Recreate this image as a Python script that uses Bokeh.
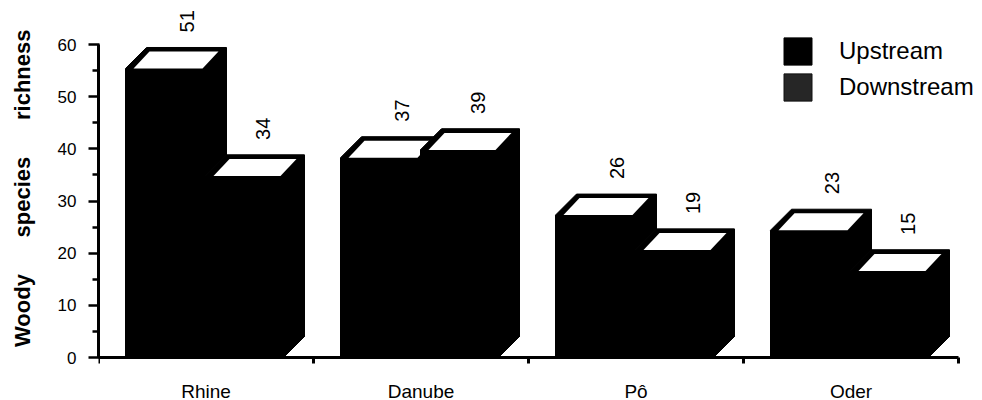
import math
from bokeh.plotting import figure
from bokeh.models import Range1d, FixedTicker, Legend, LegendItem, ColumnDataSource
from bokeh.embed import file_html
from bokeh.resources import INLINE
from bokeh.core.properties import value

# ---- data ----
rivers = ["Rhine", "Danube", "Pô", "Oder"]
upstream = [55.4, 38.3, 27.3, 24.4]          # bar heights as drawn
downstream = [34.8, 39.8, 20.6, 16.6]
upstream_labels = ["51", "37", "26", "23"]   # values printed above bars
downstream_labels = ["34", "39", "19", "15"]
y_ticks = [0, 10, 20, 30, 40, 50, 60]
y_minor = [5, 15, 25, 35, 45, 55]
y_label = "\u00a0" * 4 + "Woody" + "\u00a0" * 6 + "species" + "\u00a0" * 6 + "richness"
series_names = ["Upstream", "Downstream"]

FONT = "Liberation Sans"

# ---- layout ----
W, H = 982, 400
LEFT = 98
AXIS_Y = 357          # pixel row of the x axis (value 0)
PX_X = 215.0          # pixels per category
PX_Y = 313.0 / 60.0   # pixels per unit
x_end = (W - LEFT) / PX_X
y_start = -(H - AXIS_Y) / PX_Y
y_end = AXIS_Y / PX_Y

p = figure(width=W, height=H, output_backend="svg", toolbar_location=None,
           x_range=Range1d(0, x_end), y_range=Range1d(y_start, y_end),
           min_border_left=LEFT, min_border_right=0, min_border_top=0,
           min_border_bottom=0, outline_line_color=None,
           background_fill_color="white", border_fill_color="white")
p.grid.visible = False

# ---- 3D bar geometry (offsets in pixels converted to data units) ----
UX0, UX1 = 27 / PX_X, 107 / PX_X
DX0, DX1 = 107 / PX_X, 185 / PX_X
DX = 21 / PX_X
DY = 21 / PX_Y


def prism(x0, x1, h):
    return ([x0, x0, x0 + DX, x1 + DX, x1 + DX, x1],
            [0, h, h + DY, h + DY, DY, 0])


def top(x0, x1, h):
    a, b, c, e, t = 8 / PX_X, 3 / PX_X, 8 / PX_X, 3 / PX_X, 4 / PX_Y
    return ([x0 + a, x1 - b, x1 + DX - c, x0 + DX + e],
            [h, h, h + DY - t, h + DY - t])


def build(vals, x0, x1, fn):
    xs, ys = [], []
    for i, v in enumerate(vals):
        px, py = fn(i + x0, i + x1, v)
        xs.append(px)
        ys.append(py)
    return xs, ys


ux, uy = build(upstream, UX0, UX1, prism)
utx, uty = build(upstream, UX0, UX1, top)
dx_, dy_ = build(downstream, DX0, DX1, prism)
dtx, dty = build(downstream, DX0, DX1, top)

up_r = p.patches(ux, uy, fill_color="black", line_color="black", line_width=1)
p.patches(utx, uty, fill_color="white", line_color=None)
# downstream series: legend key colour (dark stipple grey), overdrawn in black
down_key = p.patches(dx_, dy_, fill_color="#262626", line_color="#111111", line_width=1)
p.patches(dx_, dy_, fill_color="black", line_color="black", line_width=1)
p.patches(dtx, dty, fill_color="white", line_color=None)

# ---- value labels (rotated) ----
GAP = 15 / PX_Y
lab_src = ColumnDataSource(dict(
    x=[i + 88.5 / PX_X for i in range(len(rivers))] + [i + 164.5 / PX_X for i in range(len(rivers))],
    y=[v + DY + GAP for v in upstream] + [v + DY + GAP for v in downstream],
    t=upstream_labels + downstream_labels,
))
p.text(x="x", y="y", text="t", source=lab_src, angle=math.pi / 2,
       text_align="left", text_baseline="middle",
       text_font=value(FONT), text_font_size="20px", text_color="black")

# ---- x axis (drawn at value 0) ----
xa = p.xaxis[0]
xa.fixed_location = 0
xa.bounds = (0, len(rivers))
xa.ticker = FixedTicker(ticks=[i + 0.5 for i in range(len(rivers))],
                        minor_ticks=list(range(len(rivers) + 1)))
xa.major_label_overrides = {i + 0.5: name for i, name in enumerate(rivers)}
xa.major_tick_out = 0
xa.major_tick_in = 0
xa.minor_tick_out = 6
xa.minor_tick_in = 0
xa.minor_tick_line_width = 3
xa.minor_tick_line_color = "black"
xa.axis_line_width = 3
xa.axis_line_color = "black"
xa.major_label_text_font = FONT
xa.major_label_text_font_size = "19px"
xa.major_label_text_color = "black"
xa.major_label_standoff = 17

# ---- y axis ----
ya = p.yaxis[0]
ya.bounds = (0, 60)
ya.ticker = FixedTicker(ticks=y_ticks, minor_ticks=y_minor)
ya.major_tick_out = 10
ya.major_tick_in = 1
ya.minor_tick_out = 6
ya.minor_tick_in = 0
ya.major_tick_line_width = 2.5
ya.minor_tick_line_width = 2.5
ya.major_tick_line_color = "black"
ya.minor_tick_line_color = "black"
ya.axis_line_width = 3
ya.axis_line_color = "black"
ya.major_label_text_font = FONT
ya.major_label_text_font_size = "17px"
ya.major_label_text_color = "black"
ya.major_label_standoff = 12
ya.axis_label = y_label
ya.axis_label_text_font = FONT
ya.axis_label_text_font_size = "22px"
ya.axis_label_text_font_style = "bold"
ya.axis_label_text_color = "black"
ya.axis_label_standoff = 20

# ---- legend ----
legend = Legend(items=[LegendItem(label=series_names[0], renderers=[up_r]),
                       LegendItem(label=series_names[1], renderers=[down_key])],
                location=(682, 296), margin=0, padding=0, spacing=2,
                glyph_width=35, glyph_height=34, label_standoff=24,
                label_text_font=FONT, label_text_font_size="24px",
                label_text_color="black",
                border_line_color=None, background_fill_alpha=0)
p.add_layout(legend)

open("out.html", "w").write(file_html(p, INLINE))
